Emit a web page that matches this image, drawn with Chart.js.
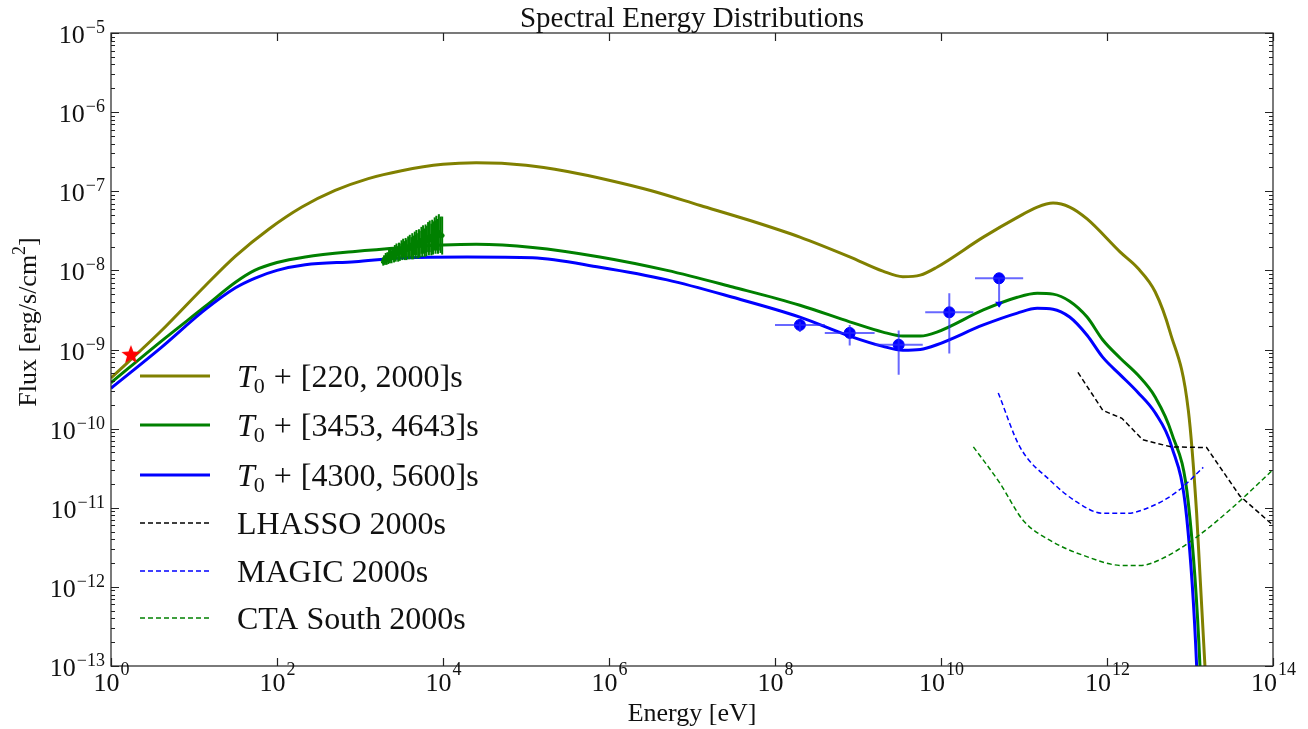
<!DOCTYPE html>
<html lang="en">
<head>
<meta charset="UTF-8">
<title>Spectral Energy Distributions</title>
<script src="https://cdn.jsdelivr.net/npm/chart.js"></script>
<style>
  html, body { margin: 0; padding: 0; background: #fff; }
  #wrap { width: 1308px; height: 729px; position: relative; }
</style>
</head>
<body>
<div id="wrap"><canvas id="sedChart"></canvas></div>
<script>
// all values as log10(E / eV) and log10(flux / erg s^-1 cm^-2)
const oliveLogE = [0, 0.6, 1.13, 1.5, 1.9, 2.3, 2.7, 3.1, 3.5, 4.0, 4.4, 5.0, 5.5, 6.0, 6.5, 7.1, 7.7, 8.3, 8.9, 9.3, 9.54, 9.75, 9.95, 10.51, 10.92, 11.16, 11.35, 11.55, 11.76, 12.16, 12.37, 12.58, 12.76, 12.98, 13.08, 13.18, 13.22];
const oliveLogF = [-9.36, -8.77, -8.20, -7.82, -7.48, -7.20, -6.99, -6.84, -6.74, -6.66, -6.64, -6.67, -6.75, -6.86, -6.99, -7.18, -7.37, -7.58, -7.83, -8.01, -8.08, -8.06, -7.96, -7.58, -7.33, -7.20, -7.15, -7.20, -7.35, -7.77, -7.97, -8.27, -8.78, -9.77, -11.07, -13.0, -14.0];

const greenLogE = [0, 0.6, 1.13, 1.5, 1.73, 2.0, 2.34, 2.94, 3.54, 4.0, 4.4, 5.08, 5.89, 6.70, 7.49, 8.30, 8.9, 9.30, 9.54, 9.75, 9.95, 10.51, 10.92, 11.16, 11.35, 11.55, 11.76, 11.95, 12.16, 12.37, 12.58, 12.78, 12.98, 13.12, 13.15];
const greenLogF = [-9.42, -8.90, -8.46, -8.15, -8.00, -7.90, -7.83, -7.76, -7.71, -7.68, -7.67, -7.71, -7.83, -8.00, -8.21, -8.44, -8.65, -8.78, -8.83, -8.83, -8.78, -8.50, -8.34, -8.29, -8.30, -8.39, -8.59, -8.88, -9.11, -9.32, -9.60, -10.06, -10.94, -13.0, -14.0];

const blueLogE = [0, 0.6, 1.13, 1.5, 1.73, 2.0, 2.34, 2.94, 3.54, 4.29, 5.08, 5.89, 6.70, 7.49, 8.30, 8.9, 9.30, 9.54, 9.75, 9.95, 10.51, 10.92, 11.16, 11.35, 11.55, 11.76, 11.95, 12.16, 12.37, 12.58, 12.78, 12.96, 13.08, 13.11];
const blueLogF = [-9.49, -8.98, -8.50, -8.22, -8.10, -8.00, -7.93, -7.89, -7.84, -7.83, -7.84, -7.96, -8.12, -8.34, -8.59, -8.83, -8.96, -9.01, -9.00, -8.94, -8.69, -8.54, -8.48, -8.49, -8.59, -8.82, -9.10, -9.32, -9.54, -9.80, -10.23, -11.12, -13.0, -14.0];

const lhassoLogE = [11.65, 11.95, 12.18, 12.43, 12.77, 13.20, 13.60, 14.0];
const lhassoLogF = [-9.29, -9.77, -9.87, -10.14, -10.23, -10.24, -10.85, -11.22];

const magicLogE = [10.69, 10.95, 11.31, 11.64, 11.95, 12.24, 12.52, 12.84, 13.16];
const magicLogF = [-9.55, -10.23, -10.65, -10.93, -11.07, -11.07, -10.99, -10.80, -10.49];

const ctaLogE = [10.39, 10.71, 10.99, 11.31, 11.71, 12.19, 12.40, 12.67, 13.08, 13.52, 14.0];
const ctaLogF = [-10.23, -10.69, -11.16, -11.41, -11.60, -11.73, -11.73, -11.64, -11.37, -10.99, -10.52];

// Fermi-LAT points with error extents
const fermiLogE = [8.30, 8.90, 9.49, 10.10, 10.70];
const fermiLogF = [-8.69, -8.79, -8.94, -8.53, -8.10];
const fermiLogElo = [8.00, 8.60, 9.20, 9.81, 10.41];
const fermiLogEhi = [8.60, 9.20, 9.78, 10.39, 10.99];
const fermiLogFlo = [-8.78, -8.95, -9.32, -9.05, -8.46];
const fermiLogFhi = [-8.65, -8.69, -8.76, -8.29, -8.10];
const fermiArrow = [false, false, false, false, true];

// X-ray spectrum points
const xrayLogE = [3.28, 3.29, 3.30, 3.31, 3.32, 3.33, 3.34, 3.35, 3.36, 3.37, 3.38, 3.39, 3.41, 3.42, 3.43, 3.44, 3.46, 3.47, 3.48, 3.50, 3.51, 3.52, 3.54, 3.55, 3.56, 3.58, 3.59, 3.60, 3.62, 3.63, 3.64, 3.66, 3.67, 3.68, 3.70, 3.71, 3.72, 3.74, 3.75, 3.76, 3.78, 3.79, 3.80, 3.82, 3.83, 3.84, 3.86, 3.87, 3.88, 3.90, 3.91, 3.92, 3.94, 3.95, 3.97, 3.99];
const xrayLogF = [-7.89, -7.86, -7.88, -7.84, -7.87, -7.83, -7.85, -7.81, -7.84, -7.80, -7.83, -7.79, -7.81, -7.77, -7.80, -7.76, -7.79, -7.75, -7.77, -7.73, -7.76, -7.72, -7.75, -7.71, -7.74, -7.70, -7.73, -7.69, -7.72, -7.67, -7.71, -7.66, -7.70, -7.65, -7.69, -7.64, -7.67, -7.62, -7.66, -7.61, -7.65, -7.60, -7.63, -7.58, -7.62, -7.57, -7.61, -7.56, -7.59, -7.54, -7.58, -7.53, -7.57, -7.52, -7.55, -7.56];
const xrayLogErr = [0.05, 0.05, 0.05, 0.06, 0.06, 0.06, 0.07, 0.07, 0.07, 0.08, 0.08, 0.08, 0.09, 0.09, 0.09, 0.10, 0.10, 0.10, 0.11, 0.11, 0.11, 0.12, 0.12, 0.12, 0.13, 0.13, 0.13, 0.14, 0.14, 0.14, 0.15, 0.15, 0.15, 0.16, 0.16, 0.16, 0.17, 0.17, 0.17, 0.18, 0.18, 0.18, 0.19, 0.19, 0.19, 0.20, 0.20, 0.20, 0.21, 0.21, 0.21, 0.22, 0.22, 0.23, 0.23, 0.24];

// optical point (red star)
const starLogE = [0.24];
const starLogF = [-9.07];

const xTickExp = [0, 2, 4, 6, 8, 10, 12, 14];
const yTickExp = [-5, -6, -7, -8, -9, -10, -11, -12, -13];

const legendLabels = ['[220, 2000]s', '[3453, 4643]s', '[4300, 5600]s', 'LHASSO 2000s', 'MAGIC 2000s', 'CTA South 2000s'];

const OLIVE = '#808000', GREEN = '#008000', BLUE = '#0000ff';
const SERIF = '"Liberation Serif", "DejaVu Serif", serif';

const pts = (lx, ly) => lx.map((v, i) => ({ x: Math.pow(10, v), y: Math.pow(10, ly[i]) }));

function makeStar(r, color) {
    const c = document.createElement('canvas');
    c.width = c.height = 2 * r + 2;
    const g = c.getContext('2d');
    g.fillStyle = color;
    g.beginPath();
    for (let i = 0; i < 10; i++) {
        const rad = i % 2 ? r * 0.42 : r;
        const a = -Math.PI / 2 + i * Math.PI / 5;
        g.lineTo(r + 1 + rad * Math.cos(a), r + 1 + rad * Math.sin(a));
    }
    g.closePath();
    g.fill();
    return c;
}

function curve(data, color, width, dash, straight) {
    const ds = {
        data: data, showLine: true, borderColor: color, backgroundColor: color,
        borderWidth: width, borderDash: dash || [], pointRadius: 0, tension: 0
    };
    if (!straight) ds.cubicInterpolationMode = 'monotone';
    return ds;
}

// "10" with a raised exponent
function powLabel(ctx, x, yBase, exp, align, raise) {
    const expTxt = exp < 0 ? '\u2212' + Math.abs(exp) : String(exp);
    ctx.font = '26px ' + SERIF;
    const wb = ctx.measureText('10').width;
    ctx.font = '18px ' + SERIF;
    const we = ctx.measureText(expTxt).width;
    const x0 = align === 'right' ? x - wb - we : x - (wb + we) / 2;
    ctx.textAlign = 'left';
    ctx.textBaseline = 'alphabetic';
    ctx.font = '26px ' + SERIF;
    ctx.fillText('10', x0, yBase);
    ctx.font = '18px ' + SERIF;
    ctx.fillText(expTxt, x0 + wb + 1, yBase - raise);
}

const decor = {
    id: 'decor',
    afterDatasetsDraw(chart) {
        const ctx = chart.ctx, xs = chart.scales.x, ys = chart.scales.y;
        const X = v => xs.getPixelForValue(Math.pow(10, v));
        const Y = v => ys.getPixelForValue(Math.pow(10, v));
        ctx.save();
        // X-ray error bars
        ctx.strokeStyle = GREEN;
        ctx.lineWidth = 2;
        xrayLogE.forEach((e, i) => {
            ctx.beginPath();
            ctx.moveTo(X(e), Y(xrayLogF[i] - xrayLogErr[i]));
            ctx.lineTo(X(e), Y(xrayLogF[i] + xrayLogErr[i]));
            ctx.stroke();
        });
        // Fermi error bars
        ctx.strokeStyle = 'rgba(40,40,255,0.7)';
        ctx.lineWidth = 2;
        fermiLogE.forEach((e, i) => {
            const px = X(e), py = Y(fermiLogF[i]);
            ctx.beginPath();
            ctx.moveTo(X(fermiLogElo[i]), py);
            ctx.lineTo(X(fermiLogEhi[i]), py);
            ctx.moveTo(px, Y(fermiLogFlo[i]));
            ctx.lineTo(px, Y(fermiLogFhi[i]));
            ctx.stroke();
            if (fermiArrow[i]) {
                const by = Y(fermiLogFlo[i]);
                ctx.fillStyle = BLUE;
                ctx.beginPath();
                ctx.moveTo(px - 4, by - 5);
                ctx.lineTo(px + 4, by - 5);
                ctx.lineTo(px, by + 1);
                ctx.closePath();
                ctx.fill();
            }
        });
        ctx.restore();
    },
    afterDraw(chart) {
        const ctx = chart.ctx, a = chart.chartArea, xs = chart.scales.x, ys = chart.scales.y;
        ctx.save();
        // frame
        ctx.strokeStyle = '#222';
        ctx.lineWidth = 1.2;
        ctx.strokeRect(a.left, a.top, a.right - a.left, a.bottom - a.top);
        // y ticks, major + minor, both sides
        ctx.beginPath();
        yTickExp.forEach(e => {
            const py = Math.round(ys.getPixelForValue(Math.pow(10, e))) + 0.5;
            ctx.moveTo(a.left, py); ctx.lineTo(a.left + 8, py);
            ctx.moveTo(a.right, py); ctx.lineTo(a.right - 8, py);
            for (let m = 2; m <= 9; m++) {
                const v = m * Math.pow(10, e);
                if (v > Math.pow(10, -5)) continue;
                const my = Math.round(ys.getPixelForValue(v)) + 0.5;
                ctx.moveTo(a.left, my); ctx.lineTo(a.left + 4, my);
                ctx.moveTo(a.right, my); ctx.lineTo(a.right - 4, my);
            }
        });
        // x ticks
        xTickExp.forEach(e => {
            const px = Math.round(xs.getPixelForValue(Math.pow(10, e))) + 0.5;
            ctx.moveTo(px, a.bottom); ctx.lineTo(px, a.bottom - 8);
            ctx.moveTo(px, a.top); ctx.lineTo(px, a.top + 8);
        });
        ctx.stroke();

        // tick labels
        ctx.fillStyle = '#111';
        yTickExp.forEach(e => {
            const py = ys.getPixelForValue(Math.pow(10, e));
            powLabel(ctx, 104, py + 10, e, 'right', 10);
        });
        xTickExp.forEach(e => {
            const px = xs.getPixelForValue(Math.pow(10, e));
            powLabel(ctx, px, 691, e, 'center', 16);
        });

        // title and axis titles
        ctx.textAlign = 'center';
        ctx.textBaseline = 'alphabetic';
        ctx.font = '29px ' + SERIF;
        ctx.fillText('Spectral Energy Distributions', (a.left + a.right) / 2, 27);
        ctx.font = '26px ' + SERIF;
        ctx.fillText('Energy [eV]', (a.left + a.right) / 2, 721);
        ctx.save();
        ctx.translate(36, 322);
        ctx.rotate(-Math.PI / 2);
        ctx.textAlign = 'left';
        const t1 = 'Flux [erg/s/cm', t2 = '2', t3 = ']';
        const w1 = ctx.measureText(t1).width, w3 = ctx.measureText(t3).width;
        ctx.font = '18px ' + SERIF;
        const w2 = ctx.measureText(t2).width;
        const x0 = -(w1 + w2 + w3) / 2;
        ctx.font = '26px ' + SERIF;
        ctx.fillText(t1, x0, 0);
        ctx.font = '18px ' + SERIF;
        ctx.fillText(t2, x0 + w1, -11);
        ctx.font = '26px ' + SERIF;
        ctx.fillText(t3, x0 + w1 + w2, 0);
        ctx.restore();

        // legend
        const rowsY = [376, 425, 475, 523, 571, 618];
        const styles = [[OLIVE, 3, []], [GREEN, 3, []], [BLUE, 3, []], ['#000', 1.5, [5, 3]], [BLUE, 1.5, [5, 3]], [GREEN, 1.5, [5, 3]]];
        rowsY.forEach((y, i) => {
            ctx.strokeStyle = styles[i][0];
            ctx.lineWidth = styles[i][1];
            ctx.setLineDash(styles[i][2]);
            ctx.beginPath();
            ctx.moveTo(140, y); ctx.lineTo(210, y);
            ctx.stroke();
            ctx.setLineDash([]);
            ctx.fillStyle = '#111';
            ctx.textAlign = 'left';
            const base = y + 11;
            if (i < 3) {
                ctx.font = 'italic 32px ' + SERIF;
                ctx.fillText('T', 237, base);
                let x = 237 + ctx.measureText('T').width - 1;
                ctx.font = '22px ' + SERIF;
                ctx.fillText('0', x, base + 6);
                x += ctx.measureText('0').width + 9;
                ctx.font = '32px ' + SERIF;
                ctx.fillText('+', x, base);
                x += ctx.measureText('+').width + 9;
                ctx.fillText(legendLabels[i], x, base);
            } else {
                ctx.font = '32px ' + SERIF;
                ctx.fillText(legendLabels[i], 237, base);
            }
        });
        ctx.restore();
    }
};

const ctx = document.getElementById('sedChart').getContext('2d');
new Chart(ctx, {
    type: 'scatter',
    data: {
        datasets: [
            { data: pts(starLogE, starLogF), pointStyle: makeStar(10, '#ff0000'), pointRadius: 10, showLine: false },
            { data: pts(fermiLogE, fermiLogF), pointRadius: 5.5, backgroundColor: BLUE, borderColor: BLUE, showLine: false },
            { data: pts(xrayLogE, xrayLogF), pointRadius: 2, backgroundColor: GREEN, borderColor: GREEN, showLine: false },
            curve(pts(lhassoLogE, lhassoLogF), '#000', 1.5, [5, 3], true),
            curve(pts(magicLogE, magicLogF), BLUE, 1.5, [5, 3]),
            curve(pts(ctaLogE, ctaLogF), GREEN, 1.5, [5, 3]),
            curve(pts(blueLogE, blueLogF), BLUE, 3),
            curve(pts(greenLogE, greenLogF), GREEN, 3),
            curve(pts(oliveLogE, oliveLogF), OLIVE, 3)
        ]
    },
    options: {
        responsive: true,
        maintainAspectRatio: false,
        animation: false,
        layout: { padding: { top: 33, right: 35, left: 0, bottom: 0 } },
        plugins: { legend: { display: false }, tooltip: { enabled: false } },
        scales: {
            x: {
                type: 'logarithmic', min: 1, max: 1e14,
                grid: { display: false }, border: { display: false },
                ticks: { display: false },
                afterBuildTicks: s => { s.ticks = xTickExp.map(e => ({ value: Math.pow(10, e) })); },
                afterFit: s => { s.height = 63; }
            },
            y: {
                type: 'logarithmic', min: 1e-13, max: 1e-5,
                grid: { display: false }, border: { display: false },
                ticks: { display: false },
                afterBuildTicks: s => { s.ticks = yTickExp.map(e => ({ value: Math.pow(10, e) })); },
                afterFit: s => { s.width = 111; }
            }
        }
    },
    plugins: [decor]
});
</script>
</body>
</html>
